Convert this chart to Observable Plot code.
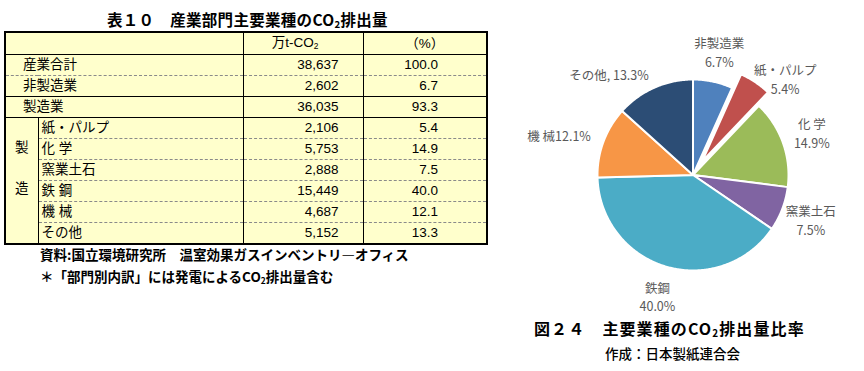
<!DOCTYPE html>
<html><head><meta charset="utf-8">
<script src="https://cdn.jsdelivr.net/npm/d3@7"></script>
<script src="https://cdn.jsdelivr.net/npm/@observablehq/plot@0.6"></script>
<style>
body{margin:0;background:#fff;}
#root{position:relative;width:864px;height:371px;overflow:hidden;font-family:"Liberation Sans","Noto Sans CJK JP",sans-serif;color:#000;}
.abs{position:absolute;white-space:nowrap;}
.sub2{font-size:62%;position:relative;top:0.25em;}
#ttl{left:107px;top:8px;font-size:15.5px;font-weight:700;font-family:"Noto Sans CJK JP",sans-serif;letter-spacing:0.3px;}
#tbl{position:absolute;left:4px;top:31px;border-collapse:collapse;background:#FFFFCC;font-size:13.5px;table-layout:fixed;border:2px solid #000;}
#tbl td{padding:0;line-height:20px;white-space:nowrap;overflow:hidden;}
#tbl tr{height:21px;}
#tbl tr.hdr{height:22px;}
.c-lab{padding-left:17px !important;}
.c-sublab{padding-left:3px !important;}
.c-val{text-align:right;padding-right:24px !important;border-left:1.5px solid #000;}
.c-pct{text-align:right;padding-right:48px !important;border-left:1.5px solid #000;}
.c-side{border-right:1.5px solid #000;text-align:center;vertical-align:top;line-height:41px !important;padding-top:9px !important;}
.b-dash td.line{border-bottom:1px dashed #8a8a8a;}
.note{left:40px;font-size:13.5px;font-weight:700;font-family:"Noto Sans CJK JP",sans-serif;}
#cap{left:534px;top:316px;font-size:16px;font-weight:700;font-family:"Noto Sans CJK JP",sans-serif;letter-spacing:1.1px;}
#src{left:605px;top:343px;font-size:13.5px;font-weight:500;font-family:"Noto Sans CJK JP",sans-serif;}
#pie{position:absolute;left:500px;top:30px;}
</style></head>
<body>
<div id="root">
  <div id="ttl" class="abs">表１０　産業部門主要業種のCO<span class="sub2">2</span>排出量</div>
  <table id="tbl"><colgroup><col style="width:33px"><col style="width:205px"><col style="width:120px"><col style="width:124px"></colgroup><tbody id="tb"></tbody></table>
  <div class="abs note" style="top:244px">資料:国立環境研究所　温室効果ガスインベントリ―オフィス</div>
  <div class="abs note" style="top:266px">＊「部門別内訳」には発電によるCO<span class="sub2">2</span>排出量含む</div>
  <div id="pie"></div>
  <div id="cap" class="abs">図２４　主要業種のCO<span class="sub2">2</span>排出量比率</div>
  <div id="src" class="abs">作成：日本製紙連合会</div>
</div>
<script>
// ---- table data ----
const tableHeaders = ["万t-CO<span class='sub2'>2</span>", "（%）"];
const tableLabels = ["産業合計", "非製造業", "製造業", "紙・パルプ", "化 学", "窯業土石", "鉄 鋼", "機 械", "その他"];
const tableValues = [38637, 2602, 36035, 2106, 5753, 2888, 15449, 4687, 5152];
const tablePercents = [100.0, 6.7, 93.3, 5.4, 14.9, 7.5, 40.0, 12.1, 13.3];
const tableGroupLabel = ["製", "造"];
const subRowStart = 3;

// ---- pie data ----
const pieCategories = ["非製造業", "紙・パルプ", "化 学", "窯業土石", "鉄鋼", "機 械", "その他"];
const pieValues = [6.7, 5.4, 14.9, 7.5, 40.0, 12.1, 13.3];
const pieLabelKinds = ["stack", "stack", "stack", "stack", "stack", "inline", "comma"];
const explodedCategory = "紙・パルプ";
const pieColors = ["#4F81BD", "#C0504D", "#9BBB59", "#8064A2", "#4BACC6", "#F79646", "#2C4D75"];

// ---- build table ----
const tb = document.getElementById("tb");
const fmt = d3.format(",");
let html = `<tr class="hdr b-solid"><td colspan="2"></td><td class="c-val" style="text-align:center;padding-right:16px !important">${tableHeaders[0]}</td><td class="c-pct" style="text-align:center;padding-right:0 !important">${tableHeaders[1]}</td></tr>`;
tableLabels.forEach((lab, i) => {
  const isSub = i >= subRowStart;
  const last = i === tableLabels.length - 1;
  let cls = "";
  if (i === 0) cls = "b-dash";
  else if (i < subRowStart) cls = "b-solid";
  else if (!last) cls = "b-dash";
  let row = `<tr class="${cls}">`;
  if (!isSub) row += `<td colspan="2" class="c-lab line">${lab}</td>`;
  else {
    if (i === subRowStart) row += `<td rowspan="${tableLabels.length - subRowStart}" class="c-side">${tableGroupLabel.join("<br>")}</td>`;
    row += `<td class="c-sublab line">${lab}</td>`;
  }
  row += `<td class="c-val line">${fmt(tableValues[i])}</td><td class="c-pct line">${tablePercents[i].toFixed(1)}</td></tr>`;
  html += row;
});
tb.innerHTML = html;
tb.querySelectorAll("tr.b-solid td").forEach(td => td.style.borderBottom = "1px solid #000");

// ---- pie ----
const W = 364, H = 290, CX = 192.5, CY = 144.5, RP = 95.5;
const explode = 0.17;
const arcs = d3.pie().sort(null).value(d => d)(pieValues);
const slicePts = [];
const stackLabels = [], inlineLabels = [];
arcs.forEach((a, i) => {
  const name = pieCategories[i];
  const mid = (a.startAngle + a.endAngle) / 2;
  const isExp = name === explodedCategory;
  const off = isExp ? explode : 0;
  const ox = Math.sin(mid) * off, oy = -Math.cos(mid) * off;
  slicePts.push({name, x: ox, y: oy});
  const n = Math.max(4, Math.ceil((a.endAngle - a.startAngle) / 0.01));
  for (let k = 0; k <= n; k++) {
    const t = a.startAngle + (a.endAngle - a.startAngle) * k / n;
    slicePts.push({name, x: ox + Math.sin(t), y: oy - Math.cos(t)});
  }
  slicePts.push({name, x: ox, y: oy});
  const v = pieValues[i].toFixed(1);
  const kind = pieLabelKinds[i];
  if (kind === "stack") {
    // exploded slice: label sits beside its trailing edge
    const ang = isExp ? a.endAngle : mid;
    const kk = isExp ? 1.4 : 1.32;
    stackLabels.push({x: Math.sin(ang) * kk, y: -Math.cos(ang) * kk, text: `${name}\n${v}%`});
  } else {
    const kk = 1.14;
    inlineLabels.push({x: Math.sin(mid) * kk, y: -Math.cos(mid) * kk, text: kind === "comma" ? `${name}, ${v}%` : `${name}${v}%`});
  }
});

const pie = Plot.plot({
  width: W, height: H, margin: 0,
  x: {domain: [-CX / RP, (W - CX) / RP], range: [0, W], axis: null},
  y: {domain: [-CY / RP, (H - CY) / RP], range: [0, H], axis: null},
  color: {domain: pieCategories, range: pieColors},
  style: {fontFamily: "'Noto Sans CJK JP', sans-serif", background: "transparent", overflow: "visible"},
  marks: [
    Plot.line(slicePts, {x: "x", y: "y", z: "name", fill: "name", stroke: "#fff", strokeWidth: 2, strokeLinejoin: "round", curve: "linear"}),
    Plot.text(stackLabels, {x: "x", y: "y", text: "text", fill: "#595959", fontSize: 12.5, lineHeight: 1.5, textAnchor: "middle"}),
    Plot.text(inlineLabels, {x: "x", y: "y", text: "text", fill: "#595959", fontSize: 12.5, textAnchor: "end"})
  ]
});
document.getElementById("pie").appendChild(pie);
</script>
</body></html>
